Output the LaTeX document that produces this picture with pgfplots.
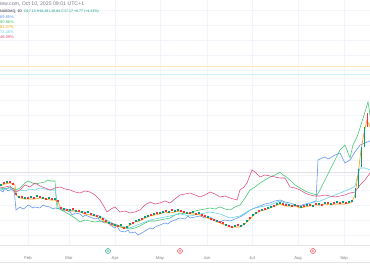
\documentclass[border=0pt]{standalone}
\usepackage{pgfplots}
\pgfplotsset{compat=1.18}
\usepackage{pgfplotstable}
\usepackage{fontspec}
\setmainfont{Liberation Sans}
\definecolor{cblue}{HTML}{5B8FF0}
\definecolor{cgreenl}{HTML}{3CC46E}
\definecolor{ccyan}{HTML}{5CD0E6}
\definecolor{cpink}{HTML}{DE4A80}
\definecolor{corange}{HTML}{FF9800}
\definecolor{cred}{HTML}{F23645}
\definecolor{cgreen}{HTML}{089981}
\definecolor{cgrid}{HTML}{F2F4F9}
\definecolor{ctext}{HTML}{787B86}
\definecolor{cdark}{HTML}{131722}

\pgfplotstableread{
x y c
1 60 g
4 62 r
7 63 g
10 63 r
13 61 r
16 51 r
19 48 g
22 48 r
25 47 g
28 47 r
31 48 g
34 47 r
37 49 g
40 48 r
43 47 g
46 46 r
49 47 g
52 46 r
55 46 g
58 44 r
61 37 r
64 36 g
67 35 r
70 35 g
73 36 r
76 34 g
79 34 r
82 33 g
85 32 r
88 33 g
91 31 r
94 30 g
97 29 r
100 28 g
103 26 r
106 24 r
109 22 g
112 21 r
115 20 g
118 19 r
121 20 g
124 17 r
127 18 g
130 21 g
133 22 r
136 24 g
139 25 g
142 26 r
145 28 g
148 29 g
151 30 r
154 31 g
157 32 r
160 32 g
163 33 g
166 34 r
169 33 g
172 35 r
175 34 g
178 35 g
181 34 r
184 33 r
187 32 g
190 32 r
193 33 g
196 31 r
199 32 g
202 30 r
205 29 r
208 28 g
211 26 r
214 25 r
217 24 g
220 23 r
223 22 r
226 20 g
229 19 r
232 18 r
235 19 g
238 20 r
241 19 g
244 21 g
247 24 g
250 27 r
253 30 g
256 32 g
259 34 r
262 35 g
265 36 r
268 37 g
271 38 g
274 39 r
277 41 g
280 42 g
283 41 r
286 40 r
289 40 g
292 39 r
295 40 g
298 39 r
301 38 g
304 39 r
307 40 g
310 40 r
313 39 g
316 41 r
319 41 g
322 40 r
325 42 g
328 42 r
331 41 g
334 42 r
337 43 g
340 42 r
343 43 g
346 42 r
349 43 g
352 44 g
}\candles

\begin{document}
\begin{tikzpicture}
\useasboundingbox (0,0) rectangle (370pt,280pt);
\begin{axis}[
  at={(0,35pt)}, anchor=south west,
  scale only axis, width=370pt, height=245pt,
  xmin=0, xmax=370, ymin=0, ymax=245,
  clip=false,
  axis line style={draw=none},
  tick style={draw=none},
  xtick={28,69,115,160,207,252,298,344},
  xticklabels={Feb,Mar,Apr,May,Jun,Jul,Aug,Sep},
  ytick={10,25,...,235},
  yticklabels={},
  grid=major,
  major grid style={draw=cgrid, line width=0.5pt},
  xticklabel style={anchor=center, yshift=-13pt, font=\fontsize{4.2}{5}\selectfont, text=ctext},
]
% faint price lines
\addplot[corange!25, line width=0.6pt] coordinates {(0,179)(370,179)};
\addplot[ccyan!30, line width=0.6pt] coordinates {(0,171)(370,171)};
\addplot[black!12, line width=0.5pt] coordinates {(0,73)(370,73)};
\addplot[black!10, line width=0.4pt] coordinates {(0,0)(370,0)};
\addplot[black!10, line width=0.4pt] coordinates {(0,-17)(370,-17)};

% blue
\addplot[cblue, line width=0.55pt] coordinates {
(0,55)(3,53)(5,57)(8,54)(10,55)(14,57)(16,35)(20,38)(23,36)(25,37)(28,40)(30,39)(33,37)(35,38)(40,37)(43,40)(45,39)(50,38)(53,36)(55,37)(60,36)(63,34)(65,35)(70,33)(72,30)(75,32)(80,31)(83,28)(85,30)(90,28)(95,26)(98,27)(100,24)(105,22)(108,23)(110,20)(115,17)(117,19)(120,14)(125,13)(128,15)(130,12)(135,13)(138,10)(140,11)(145,14)(150,17)(153,16)(155,18)(160,20)(165,22)(168,21)(170,23)(175,25)(180,27)(185,26)(188,29)(190,27)(195,28)(200,29)(205,27)(210,28)(213,26)(215,25)(220,23)(225,25)(230,24)(235,26)(240,28)(245,31)(250,35)(255,37)(260,39)(265,41)(270,42)(275,44)(280,45)(285,43)(290,42)(295,40)(300,39)(305,41)(310,42)(316,44)(318,85)(322,87)(325,88)(328,86)(330,87)(335,90)(340,92)(343,86)(345,82)(350,85)(355,93)(360,100)(365,102)(370,104)};
% green
\addplot[cgreenl, line width=0.55pt] coordinates {
(0,57)(5,56)(10,58)(16,55)(20,57)(25,62)(28,64)(30,63)(35,61)(40,62)(45,63)(48,65)(50,64)(55,64)(57,37)(60,36)(65,33)(70,30)(75,27)(80,23)(85,25)(90,24)(95,23)(100,24)(105,23)(110,22)(115,20)(120,18)(125,17)(130,16)(135,17)(140,19)(145,22)(150,24)(155,24)(160,25)(165,26)(170,27)(175,30)(180,32)(185,31)(190,32)(195,34)(200,35)(205,36)(210,37)(215,36)(220,38)(225,36)(230,35)(235,38)(240,40)(245,47)(250,55)(255,58)(260,62)(265,65)(270,68)(275,70)(280,73)(283,70)(285,69)(290,65)(295,60)(300,57)(305,54)(310,52)(317,50)(320,55)(325,65)(330,75)(335,85)(340,95)(345,100)(350,87)(353,100)(357,108)(360,117)(365,133)(368,143)(370,130)};
% cyan
\addplot[ccyan, line width=0.55pt] coordinates {
(0,55)(10,57)(15,52)(20,55)(25,54)(30,56)(35,55)(40,57)(45,56)(50,55)(55,55)(58,38)(62,37)(66,36)(70,35)(75,34)(80,33)(85,33)(90,32)(95,30)(100,29)(105,26)(110,23)(115,21)(120,19)(125,18)(130,17)(135,19)(140,21)(145,23)(150,25)(155,26)(160,27)(165,28)(170,29)(175,30)(180,31)(185,30)(190,29)(195,30)(200,31)(205,32)(210,33)(215,32)(220,31)(225,29)(230,27)(235,28)(240,29)(245,32)(250,35)(255,37)(260,38)(265,39)(270,40)(275,42)(280,44)(285,42)(290,40)(295,39)(300,39)(305,40)(310,42)(315,43)(320,44)(325,46)(330,48)(335,50)(340,52)(345,54)(350,56)(355,59)(358,70)(360,77)(365,77)(370,75)};
% pink
\addplot[cpink, line width=0.55pt] coordinates {
(0,57)(5,58)(10,59)(15,53)(20,55)(25,60)(30,58)(35,62)(40,59)(45,57)(50,55)(55,57)(60,58)(65,56)(70,55)(75,53)(80,52)(85,54)(90,53)(95,50)(100,45)(103,40)(107,33)(111,36)(115,38)(120,33)(125,34)(130,32)(135,33)(140,35)(145,40)(150,43)(155,41)(160,42)(165,44)(170,42)(175,46)(180,50)(185,51)(190,52)(195,50)(200,48)(205,50)(210,53)(215,51)(220,48)(225,49)(230,47)(237,45)(240,55)(244,58)(247,62)(252,75)(255,73)(260,68)(265,70)(270,69)(275,68)(280,67)(285,67)(290,58)(295,57)(300,55)(305,52)(310,50)(315,49)(320,49)(325,50)(330,49)(335,48)(340,49)(345,50)(350,52)(355,53)(360,60)(365,65)(370,72)};
% orange (main close)
\addplot[corange, line width=0.6pt] coordinates {
(0,59)(5,61)(10,62)(15,60)(16,50)(20,47)(25,46)(30,46)(35,46)(40,47)(45,46)(50,45)(55,45)(58,43)(61,36)(65,35)(70,34)(75,34)(80,33)(85,31)(90,30)(95,29)(100,27)(105,23)(110,21)(115,19)(120,19)(124,16)(130,20)(135,23)(140,24)(145,27)(150,29)(155,30)(160,31)(165,33)(170,32)(175,33)(180,34)(185,32)(190,31)(195,31)(200,30)(205,28)(210,26)(215,24)(220,22)(225,20)(230,18)(235,18)(240,18)(245,21)(250,26)(255,31)(260,34)(265,35)(270,37)(275,39)(280,41)(285,39)(290,39)(295,39)(300,37)(305,38)(310,39)(315,40)(320,40)(325,41)(330,40)(335,41)(340,41)(345,41)(350,42)(352,43)(355,50)(358,70)(361,95)(364,112)(367,125)(370,118)};
% candles
\addplot[scatter, only marks, scatter src=explicit symbolic,
  scatter/classes={
    r={mark=square*, draw=cred, fill=cred, mark size=0.6pt},
    g={mark=square*, draw=cgreen, fill=cgreen, mark size=0.6pt}}]
  table[x=x, y=y, meta=c] {\candles};
\addplot[cgreen, line width=1pt] coordinates {(355,47)(355,57)};
\addplot[cgreen, line width=1pt] coordinates {(358,57)(358,76)};
\addplot[cgreen, line width=1pt] coordinates {(361,78)(361,98)};
\addplot[cgreen, line width=1pt] coordinates {(364,98)(364,118)};
\addplot[cred, line width=1pt] coordinates {(367,118)(367,132)};

% event icons
\node[circle, draw=cgreen, fill=cgreen!10, inner sep=0pt, minimum size=5pt, line width=0.4pt, font=\fontsize{3}{3}\selectfont, text=cgreen] at (axis cs:108,-6) {E};
\node[circle, draw=cred, fill=cred!10, inner sep=0pt, minimum size=5pt, line width=0.4pt, font=\fontsize{3}{3}\selectfont, text=cred] at (axis cs:180,-6) {E};
\node[circle, draw=cred, fill=cred!10, inner sep=0pt, minimum size=5pt, line width=0.4pt, font=\fontsize{3}{3}\selectfont, text=cred] at (axis cs:313,-6) {E};
\end{axis}
% header texts
\node[anchor=west, inner sep=0pt, font=\fontsize{5.2}{6}\selectfont, text=ctext] at (0pt,276pt) {iew.com, Oct 10, 2025 09:01 UTC+1};
\node[anchor=west, inner sep=0pt, font=\fontsize{3.6}{4.5}\selectfont] at (0pt,268pt) {\textcolor{cdark}{NASDAQ, 1D}\ \ \textcolor{cgreen}{O17.13 H18.28 L16.84 C17.17 +0.77 (+4.23\%)}};
\node[anchor=west, inner sep=0pt, font=\fontsize{4}{5}\selectfont, text=cblue] at (0pt,263pt) {69.65\%};
\node[anchor=west, inner sep=0pt, font=\fontsize{4}{5}\selectfont, text=cgreenl] at (0pt,258pt) {90.86\%};
\node[anchor=west, inner sep=0pt, font=\fontsize{4}{5}\selectfont, text=corange] at (0pt,253pt) {82.27\%};
\node[anchor=west, inner sep=0pt, font=\fontsize{4}{5}\selectfont, text=ccyan] at (0pt,248pt) {72.26\%};
\node[anchor=west, inner sep=0pt, font=\fontsize{4}{5}\selectfont, text=cpink] at (0pt,243pt) {46.09\%};
\end{tikzpicture}
\end{document}
